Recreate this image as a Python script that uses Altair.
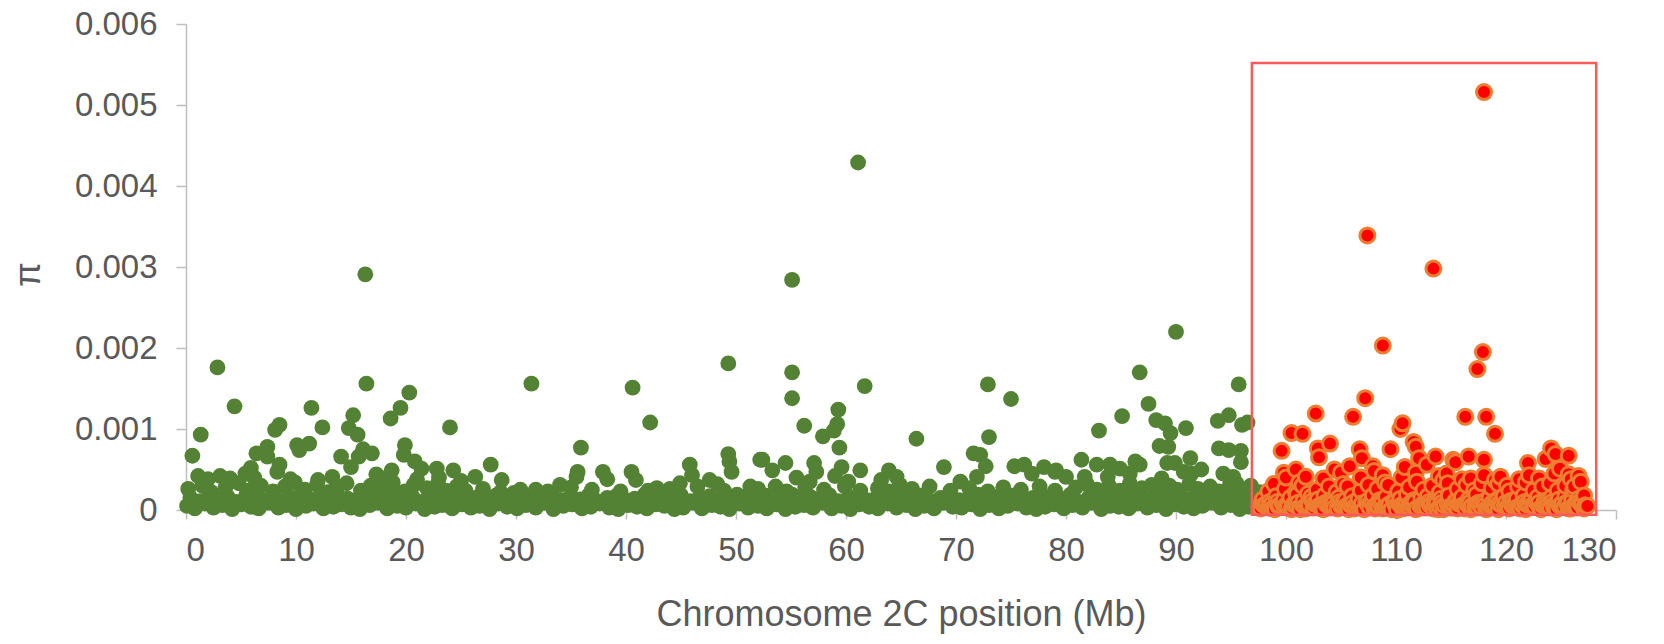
import altair as alt
import pandas as pd

# ---- values (position in Mb, pi in units of 1e-4) ----
green_high = [
    (2.86, 17.6), (4.41, 12.8), (1.34, 9.3), (0.58, 6.7), (16.4, 15.6), (16.3, 29.1),
    (20.3, 14.5), (19.5, 12.6), (18.6, 11.3), (15.2, 11.7), (14.8, 10.1), (15.6, 9.3),
    (11.4, 12.6), (12.4, 10.2), (8.5, 10.5), (8.1, 9.9), (24.0, 10.2), (11.2, 8.2),
    (10.1, 8.0), (10.3, 7.4), (7.4, 7.8), (6.4, 7.0), (7.4, 6.6), (16.1, 7.5),
    (16.9, 7.0), (15.7, 6.6), (19.9, 8.0), (19.8, 6.8), (20.8, 6.0), (14.1, 6.6),
    (15.0, 5.3), (8.5, 5.6), (5.9, 5.2), (5.4, 4.5), (8.3, 4.7), (17.3, 4.4),
    (18.7, 4.9), (21.4, 5.1), (22.8, 5.1), (24.3, 4.9), (1.1, 4.2), (3.1, 4.2),
    (31.4, 15.6), (40.6, 15.1), (42.2, 10.8), (49.3, 18.1), (35.9, 7.7), (49.3, 6.9),
    (49.4, 6.0), (49.6, 4.7), (52.2, 6.2), (27.7, 5.6), (35.6, 4.7), (35.5, 4.1),
    (37.9, 4.7), (38.3, 3.8), (40.5, 4.7), (40.9, 3.7), (45.8, 5.6), (46.0, 4.3),
    (44.9, 3.3), (47.6, 3.7), (48.3, 3.2), (26.3, 4.1), (28.7, 3.7), (34.0, 3.1),
    (31.8, 2.5), (29.8, 2.1), (42.8, 2.7), (51.3, 2.9), (50.1, 1.9),
    (55.1, 17.0), (55.1, 13.8), (55.1, 28.4), (61.1, 42.9), (61.7, 15.3), (59.3, 12.4),
    (56.2, 10.4), (59.2, 10.6), (58.9, 9.8), (57.9, 9.1), (59.4, 7.7), (66.4, 8.8),
    (72.9, 15.5), (75.0, 13.7), (73.0, 9.0), (71.6, 7.0), (72.2, 6.8), (72.7, 5.4),
    (71.9, 4.1), (52.4, 6.2), (54.5, 5.8), (53.3, 4.9), (55.5, 4.0), (57.1, 5.8),
    (57.3, 4.7), (56.7, 3.5), (59.6, 5.3), (59.0, 4.2), (60.2, 3.5), (61.3, 4.9),
    (63.9, 4.9), (64.6, 4.1), (64.9, 3.1), (63.2, 3.7), (68.9, 5.3), (70.4, 3.5),
    (75.3, 5.4), (76.2, 5.6), (76.9, 4.5), (78.0, 5.3), (79.0, 4.7), (53.6, 2.9),
    (90.0, 22.0), (86.7, 17.0), (95.7, 15.5), (87.5, 13.1), (85.1, 11.6), (83.0, 9.8),
    (88.2, 11.1), (89.0, 10.7), (89.5, 9.5), (90.9, 10.1), (93.8, 11.0), (94.8, 11.7),
    (96.0, 10.5), (96.5, 10.8), (88.5, 7.9), (89.3, 7.8), (89.2, 5.8), (89.9, 5.8),
    (91.3, 6.4), (93.9, 7.6), (94.8, 7.4), (95.9, 7.3), (95.9, 5.9), (94.3, 4.5),
    (90.7, 4.7), (91.4, 4.5), (92.3, 5.0), (81.4, 6.2), (82.8, 5.6), (84.0, 5.6),
    (84.9, 5.1), (86.3, 6.0), (86.7, 5.6), (79.1, 4.9), (80.0, 4.1), (81.7, 4.1),
    (83.8, 4.1), (85.8, 4.5), (88.7, 3.9), (95.2, 4.1), (95.5, 3.3),
    (2.0, 3.8), (4.0, 3.9), (6.2, 4.0), (9.5, 3.8), (12.0, 3.7), (13.3, 4.1),
    (17.8, 3.9), (21.0, 3.8), (23.0, 4.0), (25.0, 3.6),
]

green_band_low = [
    (0.1, 0.5), (0.8, 0.2), (1.7, 0.8), (2.5, 0.3), (3.3, 0.6), (4.2, 0.1), (5.0, 0.7),
    (5.9, 0.4), (6.6, 0.2), (7.5, 0.9), (8.4, 0.3), (9.1, 0.6), (10.0, 0.1), (10.9, 0.5),
    (11.6, 0.8), (12.5, 0.2), (13.4, 0.4), (14.1, 0.7), (15.0, 0.3), (15.8, 0.1),
    (16.7, 0.6), (17.5, 0.9), (18.3, 0.2), (19.2, 0.5), (20.0, 0.3), (20.9, 0.8),
    (21.7, 0.1), (22.6, 0.4), (23.3, 0.6), (24.2, 0.2), (25.1, 0.7), (25.9, 0.3),
    (26.7, 0.5), (27.6, 0.1), (28.4, 0.8), (29.2, 0.4), (30.1, 0.2), (30.9, 0.6),
    (31.8, 0.3), (32.6, 0.9), (33.4, 0.1), (34.3, 0.5), (35.1, 0.7), (36.0, 0.2),
    (36.8, 0.4), (37.6, 0.8), (38.5, 0.3), (39.3, 0.1), (40.2, 0.6), (41.0, 0.4),
    (41.9, 0.2), (42.7, 0.7), (43.5, 0.5), (44.4, 0.1), (45.2, 0.3), (46.1, 0.9),
    (46.9, 0.2), (47.8, 0.6), (48.6, 0.4), (49.4, 0.1), (50.3, 0.8), (51.1, 0.3),
    (52.0, 0.5), (52.8, 0.2), (53.7, 0.7), (54.5, 0.1), (55.4, 0.4), (56.2, 0.6),
    (57.0, 0.3), (57.9, 0.9), (58.7, 0.2), (59.6, 0.5), (60.4, 0.1), (61.2, 0.7),
    (62.1, 0.4), (62.9, 0.2), (63.8, 0.8), (64.6, 0.3), (65.5, 0.6), (66.3, 0.1),
    (67.1, 0.5), (68.0, 0.2), (68.8, 0.9), (69.7, 0.4), (70.5, 0.3), (71.4, 0.7),
    (72.2, 0.1), (73.0, 0.6), (73.9, 0.2), (74.7, 0.5), (75.6, 0.8), (76.4, 0.3),
    (77.3, 0.1), (78.1, 0.4), (78.9, 0.7), (79.8, 0.2), (80.6, 0.6), (81.5, 0.3),
    (82.3, 0.9), (83.2, 0.1), (84.0, 0.5), (84.8, 0.4), (85.7, 0.2), (86.5, 0.8),
    (87.4, 0.3), (88.2, 0.6), (89.1, 0.1), (89.9, 0.7), (90.7, 0.4), (91.6, 0.2),
    (92.4, 0.5), (93.3, 0.9), (94.1, 0.3), (95.0, 0.6), (95.8, 0.1), (96.6, 0.4),
    (97.5, 0.3), (98.3, 0.6),
]

green_band_mid = [
    (0.4, 1.5), (1.3, 1.1), (2.1, 1.8), (2.9, 1.3), (3.8, 1.6), (4.6, 1.0), (5.5, 1.9),
    (6.3, 1.4), (7.1, 1.2), (8.0, 1.7), (8.8, 1.1), (9.7, 1.5), (10.5, 1.9), (11.3, 1.3),
    (12.2, 1.6), (13.0, 1.0), (13.8, 1.8), (14.7, 1.4), (15.5, 1.2), (16.4, 1.7),
    (17.2, 1.5), (18.0, 1.1), (18.9, 1.9), (19.7, 1.3), (20.6, 1.6), (21.4, 1.0),
    (22.3, 1.8), (23.1, 1.4), (23.9, 1.2), (24.8, 1.7), (25.6, 1.3), (26.5, 1.6),
    (27.3, 1.1), (28.2, 1.8), (29.0, 1.4), (29.9, 1.2), (30.7, 1.7), (31.5, 1.0),
    (32.4, 1.5), (33.2, 1.9), (34.1, 1.2), (34.9, 1.6), (35.8, 1.3), (36.6, 1.8),
    (37.4, 1.1), (38.3, 1.5), (39.1, 1.7), (40.0, 1.2), (40.8, 1.4), (41.7, 1.9),
    (42.5, 1.0), (43.3, 1.6), (44.2, 1.3), (45.0, 1.8), (45.9, 1.1), (46.7, 1.5),
    (47.6, 1.7), (48.4, 1.2), (49.2, 1.4), (50.1, 1.0), (50.9, 1.6), (51.8, 1.3),
    (52.6, 1.8), (53.4, 1.1), (54.3, 1.5), (55.1, 1.9), (56.0, 1.2), (56.8, 1.6),
    (57.7, 1.4), (58.5, 1.8), (59.3, 1.1), (60.2, 1.5), (61.0, 1.7), (61.9, 1.2),
    (62.7, 1.4), (63.5, 1.9), (64.4, 1.0), (65.2, 1.6), (66.1, 1.3), (66.9, 1.8),
    (67.8, 1.1), (68.6, 1.5), (69.4, 1.7), (70.3, 1.2), (71.1, 1.4), (72.0, 1.9),
    (72.8, 1.0), (73.6, 1.6), (74.5, 1.3), (75.3, 1.8), (76.2, 1.1), (77.0, 1.5),
    (77.9, 1.7), (78.7, 1.2), (79.5, 1.4), (80.4, 1.9), (81.2, 1.0), (82.1, 1.6),
    (82.9, 1.3), (83.7, 1.8), (84.6, 1.1), (85.4, 1.5), (86.3, 1.7), (87.1, 1.2),
    (87.9, 1.4), (88.8, 1.9), (89.6, 1.0), (90.5, 1.6), (91.3, 1.3), (92.2, 1.8),
    (93.0, 1.1), (93.8, 1.5), (94.7, 1.7), (95.5, 1.2), (96.4, 1.4), (97.2, 1.9),
    (98.0, 1.3),
]

green_band_top = [
    (0.2, 2.6), (1.5, 3.0), (2.3, 2.2), (3.6, 2.8), (4.8, 3.3), (5.7, 2.4), (6.8, 3.0),
    (7.9, 2.3), (9.0, 2.9), (9.9, 3.4), (10.8, 2.5), (11.9, 3.1), (12.9, 2.2), (13.7, 2.9),
    (14.6, 3.3), (15.9, 2.4), (16.8, 3.0), (17.9, 2.6), (18.8, 3.4), (19.9, 2.3),
    (20.7, 3.1), (21.9, 2.7), (22.9, 3.3), (23.6, 2.4), (24.6, 2.9), (25.4, 2.4),
    (27.0, 2.6), (28.6, 2.2), (30.4, 2.5), (32.9, 2.3), (35.0, 2.8), (36.9, 2.5),
    (39.5, 2.3), (42.0, 2.4), (44.0, 2.6), (46.5, 2.9), (48.9, 2.4), (52.0, 2.6),
    (54.6, 2.3), (56.3, 2.8), (58.0, 2.5), (59.9, 2.9), (61.3, 2.4), (62.9, 2.7),
    (64.0, 2.3), (66.0, 2.6), (67.6, 2.9), (69.5, 2.4), (71.2, 2.7), (72.9, 2.3),
    (74.3, 2.8), (75.9, 2.5), (77.6, 2.9), (79.0, 2.4), (80.9, 2.8), (81.9, 3.2),
    (82.8, 2.5), (83.9, 3.0), (84.9, 2.4), (85.8, 3.3), (86.9, 2.7), (87.8, 3.1),
    (88.4, 2.3), (89.4, 3.0), (90.1, 2.5), (91.2, 3.2), (92.0, 2.6), (93.1, 2.9),
    (93.9, 2.3), (94.9, 3.1), (95.9, 2.5), (96.8, 3.0), (97.6, 2.2),
]

red_high = [
    (118.0, 51.6), (107.4, 33.9), (113.4, 29.8), (108.8, 20.3), (117.9, 19.5),
    (117.4, 17.4), (107.2, 13.8), (102.7, 11.9), (106.1, 11.5), (116.3, 11.5),
    (118.2, 11.5), (110.6, 10.7), (110.4, 10.0), (119.0, 9.4), (100.5, 9.5),
    (101.5, 9.4), (104.0, 8.2), (111.6, 8.4), (111.8, 7.8), (99.6, 7.3), (102.9, 7.6),
    (103.0, 6.5), (106.7, 7.5), (106.9, 6.4), (109.5, 7.5), (112.1, 6.4), (113.6, 6.6),
    (115.2, 6.2), (115.4, 5.9), (116.6, 6.6), (118.0, 6.2), (124.1, 7.6), (124.5, 6.9),
    (125.7, 6.7), (123.6, 6.3), (122.0, 5.8), (122.1, 4.3), (124.9, 5.1), (125.7, 4.4),
    (100.9, 5.0), (100.0, 4.0), (101.8, 4.1), (103.4, 3.9), (98.9, 3.2), (105.8, 5.4),
    (107.9, 5.4), (108.8, 4.3), (109.3, 3.1), (110.8, 5.3), (112.8, 5.6), (114.6, 4.5),
    (116.8, 3.9), (119.5, 4.1), (120.1, 3.0), (126.2, 2.9), (105.6, 2.9), (102.0, 2.0),
    (105.0, 4.6), (106.8, 4.0), (108.0, 4.8), (110.5, 4.0), (111.8, 4.6), (113.9, 4.2),
    (114.3, 3.7), (116.0, 3.8), (118.0, 4.3), (119.0, 3.7), (121.2, 3.8), (123.0, 3.9),
    (124.4, 4.5), (125.9, 3.8), (126.6, 4.2), (104.4, 5.0), (101.2, 3.4), (99.8, 4.6),
]

red_band_low = [
    (97.6, 0.4), (98.2, 0.8), (98.8, 0.2), (99.4, 0.6), (100.1, 0.3), (100.7, 0.7),
    (101.3, 0.1), (101.9, 0.5), (102.6, 0.8), (103.2, 0.2), (103.8, 0.6), (104.4, 0.3),
    (105.1, 0.7), (105.7, 0.1), (106.3, 0.5), (106.9, 0.8), (107.6, 0.3), (108.2, 0.6),
    (108.8, 0.2), (109.4, 0.7), (110.1, 0.0), (110.7, 0.4), (111.3, 0.8), (111.9, 0.2),
    (112.6, 0.5), (113.2, 0.7), (113.8, 0.1), (114.4, 0.6), (115.1, 0.3), (115.7, 0.8),
    (116.3, 0.2), (116.9, 0.5), (117.6, 0.7), (118.2, 0.1), (118.8, 0.4), (119.4, 0.8),
    (120.1, 0.3), (120.7, 0.6), (121.3, 0.2), (121.9, 0.7), (122.6, 0.4), (123.2, 0.1),
    (123.8, 0.6), (124.4, 0.3), (125.1, 0.8), (125.7, 0.2), (126.3, 0.5), (126.9, 0.7),
]

red_band_extra = [
    (97.8, 0.9), (98.6, 0.5), (99.2, 1.0), (100.0, 0.6), (100.6, 0.2), (101.1, 0.9),
    (101.7, 0.4), (102.4, 1.1), (103.0, 0.5), (103.6, 0.9), (104.2, 0.4), (104.9, 1.0),
    (105.5, 0.5), (106.1, 0.9), (106.7, 0.3), (107.4, 1.1), (108.0, 0.4), (108.6, 0.9),
    (109.2, 0.3), (109.9, 1.0), (110.5, 0.6), (111.1, 0.3), (111.7, 1.0), (112.4, 0.3),
    (113.0, 1.0), (113.6, 0.5), (114.2, 0.9), (114.9, 0.4), (115.5, 1.1), (116.1, 0.6),
    (116.7, 0.9), (117.4, 0.3), (118.0, 1.0), (118.6, 0.5), (119.2, 1.1), (119.9, 0.6),
    (120.5, 0.9), (121.1, 0.4), (121.7, 1.0), (122.4, 0.6), (123.0, 0.9), (123.6, 0.4),
    (124.2, 1.0), (124.9, 0.5), (125.5, 0.9), (126.1, 0.4), (126.7, 1.0), (127.2, 0.6),
]

red_band_dense = [
    (97.7, 0.2), (98.0, 0.6), (98.4, 0.3), (98.7, 0.7), (99.0, 0.1), (99.3, 0.5),
    (99.7, 0.8), (100.2, 0.4), (100.5, 0.1), (100.9, 0.6), (101.2, 0.3), (101.5, 0.7),
    (101.8, 0.2), (102.1, 0.6), (102.5, 0.3), (102.8, 0.9), (103.1, 0.4), (103.4, 0.1),
    (103.7, 0.7), (104.0, 0.3), (104.3, 0.8), (104.7, 0.2), (105.0, 0.5), (105.3, 0.9),
    (105.6, 0.3), (105.9, 0.6), (106.2, 0.2), (106.5, 0.7), (106.8, 0.4), (107.1, 0.1),
    (107.5, 0.6), (107.8, 0.9), (108.1, 0.2), (108.4, 0.5), (108.7, 0.8), (109.0, 0.3),
    (109.3, 0.6), (109.6, 0.1), (110.0, 0.5), (110.3, 0.8), (110.6, 0.2), (110.9, 0.6),
    (111.2, 0.4), (111.5, 0.9), (111.8, 0.1), (112.2, 0.5), (112.5, 0.8), (112.8, 0.3),
    (113.1, 0.6), (113.4, 0.2), (113.7, 0.8), (114.0, 0.4), (114.3, 0.1), (114.7, 0.7),
    (115.0, 0.3), (115.3, 0.6), (115.6, 0.2), (115.9, 0.9), (116.2, 0.4), (116.5, 0.7),
    (116.8, 0.1), (117.2, 0.5), (117.5, 0.9), (117.8, 0.3), (118.1, 0.6), (118.4, 0.2),
    (118.7, 0.8), (119.0, 0.4), (119.3, 0.1), (119.6, 0.6), (120.0, 0.9), (120.3, 0.2),
    (120.6, 0.5), (120.9, 0.8), (121.2, 0.3), (121.5, 0.6), (121.8, 0.1), (122.1, 0.7),
    (122.5, 0.4), (122.8, 0.9), (123.1, 0.2), (123.4, 0.5), (123.7, 0.8), (124.0, 0.3),
    (124.3, 0.6), (124.6, 0.1), (125.0, 0.7), (125.3, 0.4), (125.6, 0.9), (125.9, 0.2),
    (126.2, 0.6), (126.5, 0.3), (126.8, 0.8), (127.1, 0.2), (127.4, 0.5),
]

red_band_mid = [
    (97.9, 1.3), (98.5, 1.0), (99.1, 1.7), (99.8, 1.2), (100.4, 1.5), (101.0, 1.9),
    (101.6, 1.1), (102.3, 1.6), (102.9, 1.3), (103.5, 1.8), (104.1, 1.0), (104.8, 1.5),
    (105.4, 1.2), (106.0, 1.7), (106.6, 1.4), (107.3, 1.0), (107.9, 1.8), (108.5, 1.2),
    (109.1, 1.6), (109.8, 1.1), (110.4, 1.4), (111.0, 1.9), (111.6, 1.2), (112.3, 1.5),
    (112.9, 1.7), (113.5, 1.0), (114.1, 1.4), (114.8, 1.8), (115.4, 1.1), (116.0, 1.6),
    (116.6, 1.3), (117.3, 1.9), (117.9, 1.0), (118.5, 1.5), (119.1, 1.2), (119.8, 1.7),
    (120.4, 1.1), (121.0, 1.4), (121.6, 1.8), (122.3, 1.2), (122.9, 1.6), (123.5, 1.0),
    (124.1, 1.5), (124.8, 1.3), (125.4, 1.7), (126.0, 1.1), (126.6, 1.4), (127.1, 1.8),
]

red_band_top = [
    (98.4, 2.3), (99.9, 2.6), (100.9, 2.2), (101.5, 3.0), (102.8, 2.5), (103.9, 2.9),
    (104.6, 2.2), (105.2, 3.2), (106.8, 2.4), (107.5, 3.1), (108.3, 2.6), (109.0, 3.4),
    (110.2, 2.3), (111.2, 2.8), (111.9, 3.5), (112.5, 2.5), (113.3, 3.0), (114.0, 2.2),
    (114.7, 3.3), (115.6, 2.6), (116.4, 3.1), (117.1, 2.4), (117.8, 3.3), (118.7, 2.7),
    (119.3, 3.2), (120.3, 2.3), (121.1, 2.9), (121.8, 3.4), (122.5, 2.4), (123.3, 2.9),
    (124.0, 3.3), (124.7, 2.4), (125.4, 3.0), (126.1, 2.5), (126.8, 3.5),
]

box_x = [96.9, 128.2]
box_pi = [-0.00006, 0.00552]

x_ticks = [0, 10, 20, 30, 40, 50, 60, 70, 80, 90, 100, 110, 120, 130]
y_ticks = [0, 0.001, 0.002, 0.003, 0.004, 0.005, 0.006]


def frame(*groups):
    rows = []
    for g in groups:
        for x, v in g:
            rows.append({"pos": x, "pi": v * 1e-4})
    return pd.DataFrame(rows).sort_values("pos", kind="stable")


green_df = frame(green_band_low, green_band_mid, green_band_top, green_high)
red_df = frame(red_band_low, red_band_extra, red_band_dense, red_band_mid,
               red_band_top, red_high)
box_df = pd.DataFrame({"x1": [box_x[0]], "x2": [box_x[1]], "y1": [box_pi[0]], "y2": [box_pi[1]]})

FONT = "Liberation Sans"
TXT = "#595959"
AX = "#BFBFBF"

x_enc = alt.X(
    "pos:Q",
    scale=alt.Scale(domain=[0, 130], nice=False, zero=False),
    axis=alt.Axis(
        values=x_ticks, grid=False, title="Chromosome 2C position (Mb)",
        domainColor=AX, domainWidth=1.5, tickColor=AX, tickWidth=1.5, tickSize=9,
        labelFont=FONT, labelFontSize=33, labelColor=TXT, labelPadding=15,
        labelBaseline="top",
        titleFont=FONT, titleFontSize=36, titleColor=TXT, titleFontWeight="normal",
        titleX=715, titleY=115, titleAlign="center", titleBaseline="alphabetic",
    ),
)
y_enc = alt.Y(
    "pi:Q",
    scale=alt.Scale(domain=[0, 0.006], nice=False),
    axis=alt.Axis(
        values=y_ticks, format=".3~f", grid=False, title="π",
        domainColor=AX, domainWidth=1.5, tickColor=AX, tickWidth=1.5, tickSize=10,
        labelFont=FONT, labelFontSize=33, labelColor=TXT, labelPadding=19,
        titleFont=FONT, titleFontSize=36, titleColor=TXT, titleFontWeight="normal",
        titleX=-147, titleY=250, titleAlign="center", titleBaseline="alphabetic",
        titleAngle=270,
    ),
)

green = alt.Chart(green_df).mark_circle(size=250, color="#548235", opacity=1).encode(
    x=x_enc, y=y_enc
)
red = alt.Chart(red_df).mark_point(
    shape="circle", size=225, filled=True, fill="#FF0000", stroke="#ED7D31",
    strokeWidth=3, opacity=1, fillOpacity=1, strokeOpacity=1,
).encode(x="pos:Q", y="pi:Q")
box = alt.Chart(box_df).mark_rect(
    fillOpacity=0, stroke="#FF5A5A", strokeWidth=2.5
).encode(x="x1:Q", x2="x2:Q", y="y1:Q", y2="y2:Q")

chart = (
    alt.layer(green, red, box)
    .properties(
        width=1430, height=486,
        autosize=alt.AutoSizeParams(type="none"),
        padding={"left": 186, "top": 24, "right": 48, "bottom": 134},
        background="white",
    )
    .configure_view(strokeWidth=0)
)

chart.save("out.html", embed_options={"renderer": "svg", "actions": False})
